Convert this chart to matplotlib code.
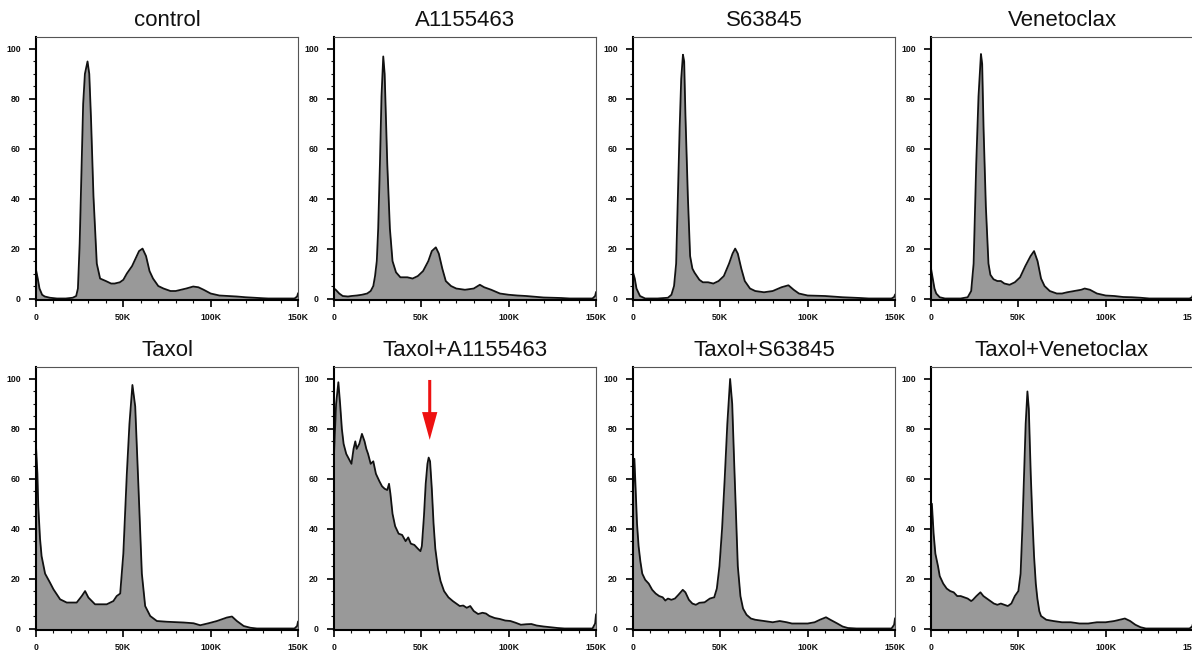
import matplotlib
matplotlib.use('Agg')
import matplotlib.pyplot as plt
from matplotlib.ticker import MultipleLocator, FuncFormatter
import numpy as np

plt.rcParams['font.family'] = ['Liberation Sans', 'DejaVu Sans']

# DNA content (x, in K) and % of max (y)
ctrl_x = [0, 1, 2, 3.5, 5, 8, 12, 17, 21, 23, 24, 25, 26, 27, 28, 29.5, 30.5, 31.5, 32.9, 34.8, 36.7,
          40, 43, 45, 48, 50, 52, 55, 57, 59, 61, 63, 65, 67, 70, 73, 77, 80, 83, 86, 90, 93, 96,
          100, 105, 110, 115, 120, 125, 130, 133, 148, 149.5, 150]
ctrl_y = [11.5, 8, 4, 1.5, 0.8, 0.3, 0, 0, 0.3, 1, 4, 22, 50, 78, 90, 95, 90, 72, 41, 14, 8,
          7, 6, 6, 6.5, 7.5, 10, 13, 16, 19, 20, 17, 11, 8, 5, 4, 3, 3, 3.5, 4, 4.8, 4.5, 3.5,
          2, 1.2, 1, 0.8, 0.5, 0.3, 0.1, 0, 0, 0.8, 2]

a115_x = [0, 1, 3, 5, 8, 10, 13, 16, 19, 21, 22.5, 23.5, 24.5, 25.3, 26.3, 27.2, 28.2, 29, 30.5, 32,
          33.5, 35.5, 38, 42, 45, 48, 51, 54, 56, 58.3, 60, 62, 64, 67, 70, 75, 80, 83.5, 86, 90,
          95, 100, 105, 110, 115, 120, 125, 130, 135, 148, 149.5, 150]
a115_y = [4, 3.5, 2, 1, 0.8, 1, 1.2, 1.5, 2, 3, 5, 9, 15, 28, 54, 81, 97, 90, 54, 28,
          15, 10.5, 8.5, 8.5, 8, 9, 11, 15, 19, 20.5, 18, 12, 7, 5, 4, 3.5, 4, 5.5, 4.5, 3.5,
          2, 1.5, 1.2, 1, 0.7, 0.4, 0.3, 0.2, 0, 0, 1, 2.5]

s638_x = [0, 1, 2, 4, 7, 14, 20, 22, 23.5, 24.7, 25.7, 26.7, 27.6, 28.6, 29.3, 30, 31.4, 32.7, 34, 35.2,
          38, 40, 43, 46, 49, 52, 55, 57, 58.5, 60, 62, 64, 67, 70, 75, 80, 85, 89, 92, 95,
          100, 110, 120, 130, 135, 148, 149.5, 150]
s638_y = [10.5, 8, 4, 1, 0, 0, 0.3, 1.5, 5, 14, 41, 68, 88, 97.7, 95, 74, 41, 17, 12, 10.4,
          7.5, 6.5, 6.5, 6, 7, 9, 14, 18, 20, 18, 12, 7, 4, 3, 2.5, 3, 4.5, 5.3, 3.5, 2,
          1.2, 1, 0.5, 0.2, 0, 0, 0.6, 1.5]

vene_x = [0, 1, 2, 3, 5, 8, 17, 21, 23, 24.4, 25.9, 27.2, 28.6, 29.3, 30.1, 31.4, 32.9, 34, 35.8, 38,
          40, 42, 45, 48, 51, 54, 57, 59, 61, 63, 65, 68, 72, 75, 78, 82, 86, 88, 91, 95,
          100, 105, 110, 115, 120, 125, 148, 149.5, 150]
vene_y = [12, 8, 4, 2, 0.5, 0, 0, 0.5, 3, 14, 54, 81, 98, 94, 68, 37, 14, 9.5, 7.7, 7,
          7, 6, 5.5, 6.5, 8.5, 13, 17, 19, 15, 8, 5, 3, 2, 2, 2.5, 3, 3.5, 4, 3.5, 2,
          1.2, 1, 0.6, 0.5, 0.3, 0, 0, 0.5, 1.5]

taxol_x = [0, 0.8, 1.3, 2.3, 3.2, 5.2, 8, 10, 13.8, 17.6, 23.3, 26.2, 28.1, 30, 33.8, 40.5, 44.3, 46.2,
           48.2, 50, 52, 53.5, 55.2, 56.8, 58.7, 60.6, 62.5, 65.4, 69.2, 75, 84.5, 90.2, 94, 98.8,
           103.6, 109.3, 112.2, 115, 118.9, 122.7, 126.5, 148, 149.5, 150]
taxol_y = [73, 62, 49, 36, 29, 22, 18.4, 15.7, 11.7, 10.4, 10.4, 13, 15, 12.4, 9.7, 9.7, 11, 13,
           14, 30, 62, 82, 97.6, 89, 56, 22, 9, 5, 3, 2.7, 2.4, 2.1, 1.3, 2.1,
           3, 4.4, 4.8, 3, 1, 0.3, 0, 0, 1, 2.7]

tx_a115_x = [0, 1.2, 2.5, 3.5, 4.5, 5.5, 7, 8.5, 10, 11.2, 12.2, 13, 14.5, 16, 17.5, 18.5, 19.5, 21,
             22.5, 24, 26, 27.5, 29, 30.5, 31.5, 32.3, 33.5, 35, 37, 39, 41, 42.5, 44, 46, 48,
             49.5, 50.3, 51.5, 52.5, 53.5, 54.2, 55, 56, 57, 58, 59.5, 61, 63, 65.5, 68, 70, 72,
             74, 76, 78, 80, 82.5, 85, 87, 89, 92, 95, 98, 101, 104, 107, 110, 113, 116, 120,
             124, 128, 132, 148, 149.5, 150]
tx_a115_y = [70, 90, 98.7, 90, 80, 74, 70, 68, 66, 72, 75, 72, 74, 78, 75, 72, 70, 66,
             67, 62, 59, 57, 56, 55.5, 58, 54, 46, 41, 38, 37.5, 35, 36.5, 34, 33.5, 32,
             31, 33, 45, 58, 66, 68.5, 67, 56, 42, 32, 24, 19, 15, 12.5, 11, 10, 9,
             9.2, 8.3, 9, 7, 5.8, 6.3, 6, 5, 4.2, 3.8, 3.2, 3, 2.3, 1.5, 1.7, 1.8, 1.2, 0.8,
             0.5, 0.2, 0, 0, 2, 5.6]

tx_s638_x = [0, 0.8, 1.5, 2.3, 3.2, 4.2, 5.3, 7, 9, 11, 13, 15, 17, 18.5, 20, 22, 24, 26, 28.5, 30,
             32, 34, 36, 38, 41, 44, 46.5, 48, 49.5, 51, 52.5, 54, 55.6, 56.8, 58, 59, 60, 61.5,
             63, 65, 67.5, 70, 75, 80, 84, 88, 91, 95, 100, 104, 107, 110.5, 113, 117, 120, 123,
             128, 148, 149.5, 150]
tx_s638_y = [55, 68, 56, 42, 33, 27, 22, 19.5, 18, 15.5, 14, 13, 12.5, 11.2, 12, 11.5, 12, 13.5, 15.5, 14.5,
             11.5, 10, 9.5, 10.3, 10.5, 12, 12.5, 16, 25, 40, 60, 82, 100, 90, 65, 45, 25, 13,
             8, 5.5, 4, 3.5, 3, 2.5, 3, 2.5, 2, 2, 2, 2.5, 3.5, 4.5, 3.5, 2, 0.8, 0.2,
             0, 0, 1.5, 4]

tx_vene_x = [0, 0.5, 1.5, 2.5, 4, 5, 7, 9, 11, 13, 15, 17, 19, 21, 23, 24, 26, 28.3, 30, 32,
             34, 36, 38, 40, 42, 44, 46, 48, 50, 51.3, 52.3, 53.3, 54.2, 55.2, 56, 57.1, 58, 59, 60,
             60.9, 62, 63, 66, 70, 75, 80, 85, 90, 95, 100, 105, 108, 111, 114, 117, 120, 123,
             148, 149.5, 150]
tx_vene_y = [40, 50, 38, 30, 25, 21, 18, 16, 15, 14.5, 13, 13, 12.5, 12, 11, 11.5, 13, 14.5, 13, 12,
             11, 10, 9.5, 10, 9.5, 9, 10, 13, 15, 22, 40, 62, 82, 95, 88, 62, 45, 29, 18,
             12, 7, 5, 3.5, 3, 2.5, 2.5, 2, 2, 2.5, 2.5, 3, 3.5, 4, 3, 1.5, 0.5, 0,
             0, 0.8, 2]

titles = ['control', 'A1155463', 'S63845', 'Venetoclax',
          'Taxol', 'Taxol+A1155463', 'Taxol+S63845', 'Taxol+Venetoclax']
curves = [(ctrl_x, ctrl_y), (a115_x, a115_y), (s638_x, s638_y), (vene_x, vene_y),
          (taxol_x, taxol_y), (tx_a115_x, tx_a115_y), (tx_s638_x, tx_s638_y), (tx_vene_x, tx_vene_y)]

fig = plt.figure(figsize=(11.92, 6.5), dpi=100)
lefts = [36, 334, 633, 931]
bottoms = [350, 20]
W, H = 1192, 650

def fmt_k(v, pos):
    return '0' if v == 0 else '%dK' % int(v)

for i, (title, (x, y)) in enumerate(zip(titles, curves)):
    row, col = divmod(i, 4)
    ax = fig.add_axes([lefts[col] / W, bottoms[row] / H, 262 / W, 263 / H])
    x = np.array(x)
    y = np.array(y)
    ax.fill_between(x, y, 0, color='#999999', lw=0)
    ax.plot(x, y, color='#111111', lw=1.3)
    ax.set_xlim(0, 150)
    ax.set_ylim(-0.6, 104.8)
    ax.set_title(title, fontsize=16, color='#111111', pad=8)

    ax.xaxis.set_major_locator(MultipleLocator(50))
    ax.xaxis.set_minor_locator(MultipleLocator(10))
    ax.xaxis.set_major_formatter(FuncFormatter(fmt_k))
    ax.yaxis.set_major_locator(MultipleLocator(20))
    ax.yaxis.set_minor_locator(MultipleLocator(5))
    ax.tick_params(which='major', length=5, width=1.3, labelsize=6.3, pad=4, colors='#111111')
    ax.tick_params(axis='y', which='major', pad=6)
    ax.tick_params(which='minor', length=2.5, width=0.8, colors='#111111')
    for lab in ax.get_xticklabels() + ax.get_yticklabels():
        lab.set_fontweight('bold')

    ax.spines['left'].set_linewidth(1.5)
    ax.spines['bottom'].set_linewidth(1.5)
    for s in ['top', 'right']:
        ax.spines[s].set_linewidth(0.8)
        ax.spines[s].set_color('#555555')

    if title == 'Taxol+A1155463':
        ax.annotate('', xy=(54.8, 75.6), xytext=(54.8, 99.6),
                    arrowprops=dict(facecolor='#ee1111', edgecolor='#ee1111', lw=0,
                                    width=2.2, headwidth=11, headlength=20, shrink=0))

fig.savefig('out.png', dpi=100)
